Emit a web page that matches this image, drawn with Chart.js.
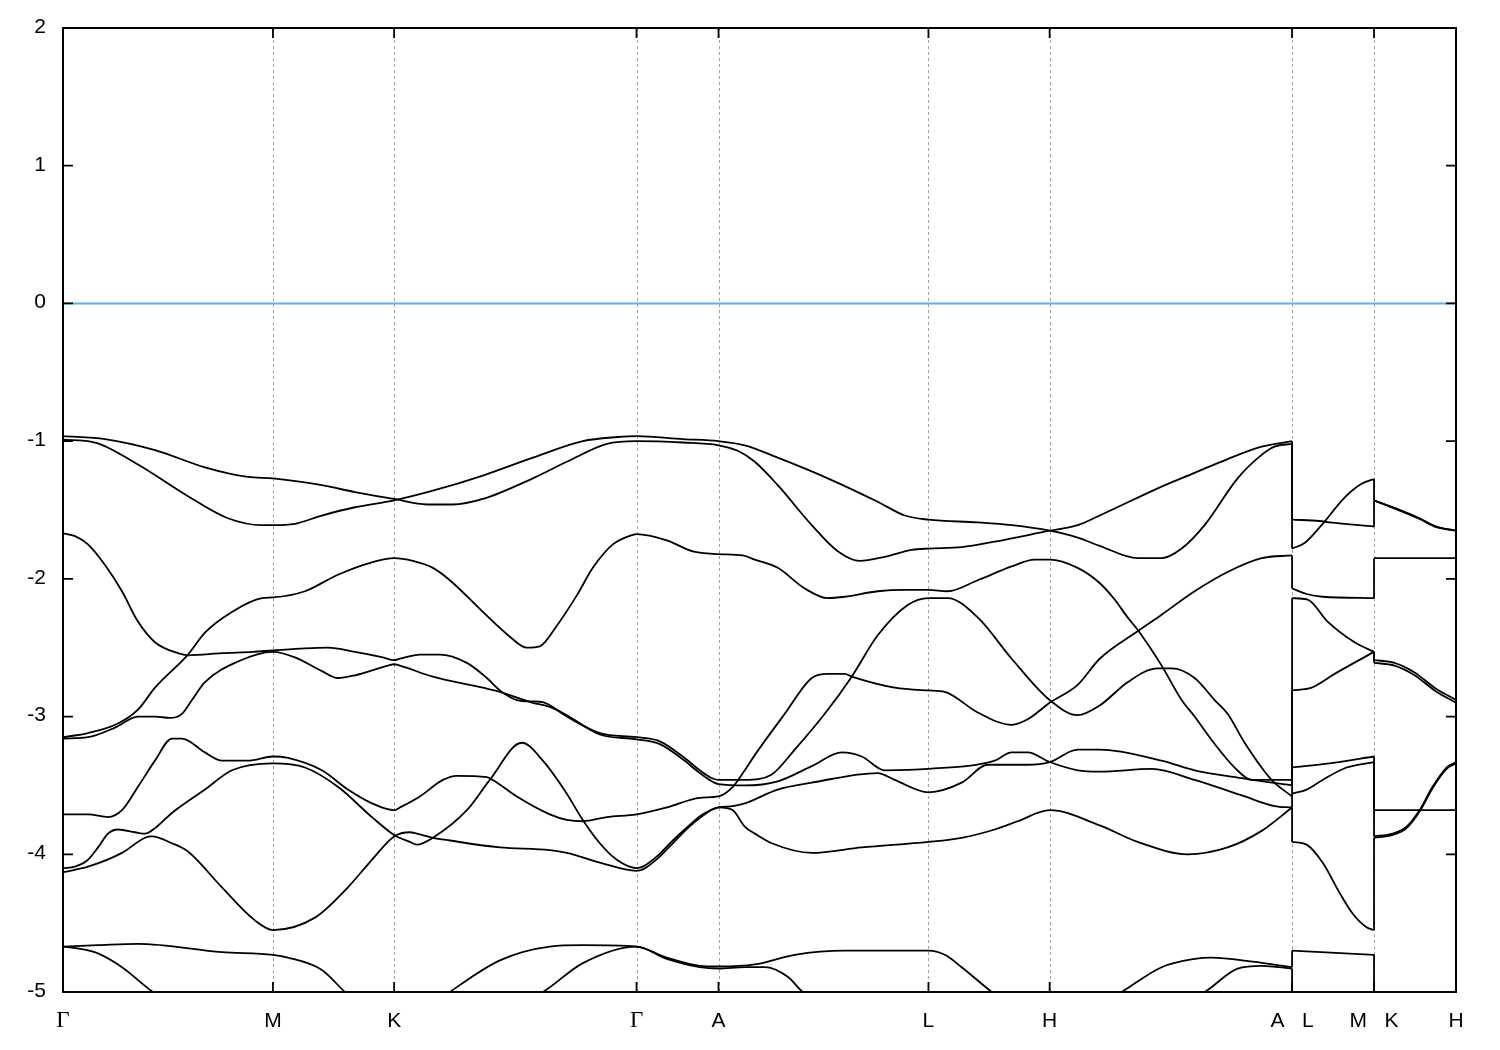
<!DOCTYPE html>
<html>
<head>
<meta charset="utf-8">
<script src="https://cdn.jsdelivr.net/npm/chart.js@4.4.1/dist/chart.umd.min.js"></script>
<style>
  html, body { margin: 0; padding: 0; background: #fff; }
  canvas { display: block; }
</style>
</head>
<body>
<canvas id="bands" width="1500" height="1050"></canvas>
<script>
// k-path: high-symmetry points (Gamma-M = 2.1)
const kTicks = [0, 2.1, 3.3124, 5.7373, 6.5573, 8.6573, 9.8697, 12.2946, 13.1146, 13.9346];
const kLabels = ['Γ', 'M', 'K', 'Γ', 'A', 'L', 'H', 'A   L', 'M   K', 'H'];
const eTicks = [-5, -4, -3, -2, -1, 0, 1, 2];
const fermi = 0;

// Γ-M-K-Γ-A-L-H-A, [k, E(eV)]
const main1 = [[0,-0.963],[0.42,-0.985],[0.92,-1.065],[1.42,-1.19],[1.85,-1.26],[2.1,-1.27],[2.59,-1.32],[2.92,-1.37],[3.3124,-1.42],[3.64,-1.46],[3.90,-1.46],[4.20,-1.42],[4.70,-1.27],[5.04,-1.15],[5.44,-1.02],[5.7373,-1.0],[6.20,-1.01],[6.5573,-1.03],[6.75,-1.07],[6.92,-1.15],[7.15,-1.32],[7.49,-1.61],[7.75,-1.80],[7.97,-1.87],[8.22,-1.84],[8.49,-1.79],[8.6573,-1.78],[8.99,-1.77],[9.32,-1.73],[9.8697,-1.65],[10.15,-1.61],[10.37,-1.54],[10.99,-1.33],[11.32,-1.23],[11.65,-1.13],[11.99,-1.04],[12.2946,-1.0]];
const main2 = [[0,-0.99],[0.32,-1.01],[0.75,-1.17],[1.25,-1.40],[1.65,-1.56],[1.99,-1.61],[2.1,-1.61],[2.32,-1.60],[2.59,-1.54],[2.92,-1.48],[3.3124,-1.43],[3.70,-1.36],[4.20,-1.25],[4.70,-1.12],[5.20,-1.0],[5.55,-0.97],[5.7373,-0.963],[6.20,-0.985],[6.5573,-1.0],[6.82,-1.03],[7.15,-1.12],[7.65,-1.27],[8.15,-1.44],[8.42,-1.54],[8.6573,-1.57],[9.15,-1.59],[9.49,-1.61],[9.8697,-1.65],[10.15,-1.70],[10.37,-1.76],[10.75,-1.85],[10.99,-1.85],[11.19,-1.78],[11.42,-1.61],[11.75,-1.27],[11.99,-1.10],[12.12,-1.04],[12.2946,-1.02]];
const main3 = [[0,-1.67],[0.12,-1.69],[0.25,-1.75],[0.42,-1.90],[0.59,-2.09],[0.75,-2.31],[0.92,-2.46],[1.15,-2.54],[1.25,-2.555],[1.59,-2.54],[1.9,-2.53],[2.1,-2.52],[2.42,-2.505],[2.65,-2.50],[2.92,-2.53],[3.20,-2.57],[3.3124,-2.59],[3.37,-2.58],[3.57,-2.55],[3.77,-2.55],[4.04,-2.61],[4.24,-2.72],[4.37,-2.81],[4.54,-2.88],[4.70,-2.89],[4.80,-2.895],[5.04,-3.0],[5.37,-3.12],[5.7373,-3.15],[5.97,-3.18],[6.20,-3.29],[6.37,-3.39],[6.50,-3.45],[6.5573,-3.46],[6.82,-3.46],[7.09,-3.42],[7.32,-3.24],[7.62,-2.98],[7.89,-2.71],[8.15,-2.41],[8.45,-2.19],[8.6573,-2.14],[8.85,-2.14],[9.15,-2.28],[9.49,-2.58],[9.8697,-2.88],[10.15,-2.99],[10.37,-2.92],[10.65,-2.75],[10.95,-2.65],[11.09,-2.65],[11.32,-2.72],[11.52,-2.88],[11.65,-2.98],[11.82,-3.19],[12.09,-3.46],[12.2946,-3.58]];
const main4 = [[0,-3.15],[0.25,-3.12],[0.55,-3.05],[0.75,-2.95],[0.92,-2.79],[1.25,-2.55],[1.42,-2.39],[1.69,-2.24],[1.99,-2.14],[2.1,-2.135],[2.42,-2.09],[2.75,-1.97],[3.09,-1.88],[3.3124,-1.85],[3.50,-1.87],[3.70,-1.92],[3.87,-2.01],[4.20,-2.24],[4.47,-2.42],[4.64,-2.50],[4.77,-2.49],[4.94,-2.34],[5.14,-2.12],[5.30,-1.92],[5.50,-1.75],[5.70,-1.68],[5.7373,-1.675],[6.04,-1.72],[6.30,-1.80],[6.5573,-1.82],[6.80,-1.83],[6.92,-1.86],[7.15,-1.92],[7.42,-2.07],[7.65,-2.14],[7.82,-2.13],[8.15,-2.09],[8.42,-2.08],[8.6573,-2.08],[8.85,-2.09],[9.15,-2.01],[9.49,-1.91],[9.72,-1.86],[9.8697,-1.86],[10.15,-1.92],[10.37,-2.03],[10.52,-2.15],[10.65,-2.28],[10.75,-2.37],[10.99,-2.63],[11.19,-2.88],[11.32,-3.0],[11.49,-3.17],[11.72,-3.37],[11.89,-3.46],[12.2946,-3.46]];
const main5 = [[0,-3.16],[0.25,-3.15],[0.52,-3.08],[0.75,-3.0],[0.92,-3.0],[1.07,-3.01],[1.19,-2.98],[1.29,-2.88],[1.42,-2.75],[1.75,-2.60],[2.1,-2.53],[2.32,-2.57],[2.59,-2.67],[2.75,-2.72],[2.92,-2.70],[3.25,-2.63],[3.3124,-2.62],[3.37,-2.63],[3.70,-2.71],[4.20,-2.79],[4.37,-2.82],[4.70,-2.90],[4.87,-2.93],[5.04,-2.99],[5.37,-3.13],[5.7373,-3.165],[5.97,-3.20],[6.20,-3.31],[6.37,-3.41],[6.5573,-3.49],[6.82,-3.50],[7.15,-3.47],[7.49,-3.36],[7.79,-3.26],[7.99,-3.29],[8.22,-3.39],[8.6573,-3.38],[9.32,-3.32],[9.49,-3.26],[9.65,-3.26],[9.8697,-3.33],[10.15,-3.39],[10.37,-3.40],[10.89,-3.38],[11.32,-3.46],[11.82,-3.58],[12.12,-3.65],[12.2946,-3.66]];
const main6 = [[0,-3.71],[0.25,-3.71],[0.45,-3.73],[0.59,-3.68],[0.75,-3.51],[0.92,-3.32],[1.09,-3.16],[1.19,-3.16],[1.42,-3.26],[1.59,-3.32],[1.85,-3.32],[2.1,-3.29],[2.25,-3.30],[2.59,-3.39],[2.85,-3.53],[3.09,-3.63],[3.3124,-3.68],[3.37,-3.66],[3.57,-3.58],[3.80,-3.46],[3.94,-3.43],[4.24,-3.44],[4.30,-3.46],[4.54,-3.58],[4.87,-3.71],[5.04,-3.75],[5.20,-3.76],[5.44,-3.73],[5.7373,-3.71],[6.04,-3.66],[6.37,-3.59],[6.5573,-3.58],[6.70,-3.51],[6.82,-3.39],[6.92,-3.28],[7.22,-2.98],[7.49,-2.72],[7.65,-2.69],[7.82,-2.69],[7.89,-2.71],[8.32,-2.79],[8.6573,-2.81],[8.82,-2.82],[9.15,-2.97],[9.49,-3.06],[9.65,-3.02],[9.8697,-2.90],[10.15,-2.77],[10.37,-2.58],[10.75,-2.38],[10.99,-2.26],[11.32,-2.09],[11.65,-1.95],[11.99,-1.85],[12.2946,-1.83]];
const main7 = [[0,-4.10],[0.12,-4.09],[0.25,-4.04],[0.35,-3.95],[0.45,-3.85],[0.55,-3.82],[0.72,-3.84],[0.82,-3.85],[0.92,-3.81],[1.09,-3.70],[1.42,-3.53],[1.69,-3.39],[2.1,-3.34],[2.42,-3.37],[2.75,-3.51],[3.09,-3.73],[3.3124,-3.86],[3.47,-3.91],[3.54,-3.93],[3.70,-3.88],[4.04,-3.68],[4.27,-3.46],[4.59,-3.19],[4.80,-3.32],[5.04,-3.56],[5.19,-3.74],[5.37,-3.92],[5.54,-4.04],[5.7373,-4.10],[5.80,-4.09],[5.95,-4.01],[6.10,-3.90],[6.25,-3.80],[6.40,-3.71],[6.5573,-3.66],[6.70,-3.65],[6.82,-3.63],[7.15,-3.53],[7.49,-3.48],[8.15,-3.41],[8.32,-3.46],[8.6573,-3.55],[8.99,-3.48],[9.25,-3.35],[9.65,-3.35],[9.8697,-3.33],[10.15,-3.24],[10.37,-3.24],[10.99,-3.32],[11.32,-3.39],[11.82,-3.45],[12.2946,-3.50]];
const main8 = [[0,-4.13],[0.25,-4.09],[0.59,-3.99],[0.82,-3.88],[0.89,-3.87],[1.09,-3.92],[1.25,-3.98],[1.59,-4.24],[1.92,-4.48],[2.1,-4.55],[2.52,-4.46],[2.85,-4.24],[3.09,-4.04],[3.3124,-3.87],[3.47,-3.84],[3.54,-3.85],[3.70,-3.88],[3.87,-3.90],[4.37,-3.95],[4.87,-3.97],[5.04,-3.99],[5.37,-4.06],[5.7373,-4.12],[5.80,-4.11],[5.95,-4.03],[6.10,-3.92],[6.25,-3.81],[6.40,-3.72],[6.5573,-3.66],[6.70,-3.68],[6.82,-3.80],[6.92,-3.85],[7.09,-3.92],[7.49,-3.99],[7.99,-3.95],[8.6573,-3.91],[8.99,-3.88],[9.32,-3.82],[9.55,-3.76],[9.8697,-3.68],[10.37,-3.79],[10.75,-3.91],[11.25,-4.0],[11.65,-3.95],[11.99,-3.83],[12.2946,-3.66]];
const main9 = [[0,-4.67],[0.35,-4.66],[0.75,-4.65],[1.59,-4.71],[2.1,-4.73],[2.25,-4.75],[2.59,-4.84],[2.82,-5.0],[3.3124,-5.3],[3.87,-5.0],[4.37,-4.77],[4.87,-4.67],[5.20,-4.66],[5.7373,-4.67],[6.04,-4.75],[6.37,-4.81],[6.5573,-4.815],[6.92,-4.80],[7.32,-4.73],[7.82,-4.70],[8.6573,-4.70],[8.82,-4.73],[8.99,-4.82],[9.29,-5.0],[9.8697,-5.3],[10.59,-5.0],[10.99,-4.82],[11.32,-4.76],[11.49,-4.75],[11.90,-4.78],[12.2946,-4.82]];
const main10 = [[0,-4.67],[0.20,-4.69],[0.35,-4.72],[0.59,-4.82],[0.90,-5.0],[2.1,-5.5],[3.3124,-5.5],[4.80,-5.0],[5.20,-4.79],[5.7373,-4.67],[6.04,-4.76],[6.37,-4.82],[6.5573,-4.83],[6.82,-4.82],[7.02,-4.82],[7.25,-4.89],[7.40,-5.0],[8.6573,-5.5],[9.8697,-5.5],[11.42,-5.0],[11.75,-4.83],[11.99,-4.81],[12.2946,-4.83]];

// L-M
const lm1 = [[12.2946,-1.57],[12.57,-1.58],[12.67,-1.59],[13.1146,-1.62]];
const lm2 = [[12.2946,-1.78],[12.42,-1.74],[12.59,-1.61],[12.82,-1.41],[12.99,-1.31],[13.1146,-1.275]];
const lm3 = [[12.2946,-2.07],[12.44,-2.11],[12.60,-2.13],[13.1146,-2.14]];
const lm4 = [[12.2946,-2.14],[12.45,-2.15],[12.65,-2.31],[12.92,-2.46],[13.1146,-2.53]];
const lm5 = [[12.2946,-2.81],[12.49,-2.79],[12.72,-2.69],[13.1146,-2.53]];
const lm6 = [[12.2946,-3.37],[12.67,-3.34],[13.1146,-3.29]];
const lm7 = [[12.2946,-3.56],[12.44,-3.53],[12.60,-3.46],[12.84,-3.37],[13.1146,-3.33]];
const lm8 = [[12.2946,-3.91],[12.44,-3.93],[12.60,-4.06],[12.77,-4.28],[12.90,-4.43],[13.04,-4.53],[13.1146,-4.55]];
const lm9 = [[12.2946,-4.70],[13.1146,-4.73]];
const lm10 = [[12.2946,-5.4],[13.1146,-5.4]];

// K-H
const kh1 = [[13.1146,-1.43],[13.34,-1.49],[13.57,-1.56],[13.74,-1.62],[13.9346,-1.65]];
const kh2 = [[13.1146,-1.43],[13.34,-1.495],[13.57,-1.565],[13.74,-1.625],[13.9346,-1.65]];
const kh3 = [[13.1146,-1.85],[13.9346,-1.85]];
const kh4 = [[13.1146,-2.59],[13.32,-2.61],[13.52,-2.68],[13.72,-2.79],[13.9346,-2.88]];
const kh5 = [[13.1146,-2.61],[13.32,-2.63],[13.52,-2.70],[13.72,-2.81],[13.9346,-2.90]];
const kh6 = [[13.1146,-3.68],[13.9346,-3.68]];
const kh7 = [[13.1146,-3.87],[13.30,-3.85],[13.44,-3.80],[13.57,-3.68],[13.70,-3.51],[13.84,-3.37],[13.9346,-3.33]];
const kh8 = [[13.1146,-3.88],[13.30,-3.86],[13.44,-3.81],[13.57,-3.69],[13.70,-3.52],[13.84,-3.38],[13.9346,-3.34]];
const kh9 = [[13.1146,-5.4],[13.9346,-5.4]];
const kh10 = [[13.1146,-5.4],[13.9346,-5.4]];

const mainBands = [main1, main2, main3, main4, main5, main6, main7, main8, main9, main10];
const lmBands = [lm1, lm2, lm3, lm4, lm5, lm6, lm7, lm8, lm9, lm10];
const khBands = [kh1, kh2, kh3, kh4, kh5, kh6, kh7, kh8, kh9, kh10];

function curve(pts) {
  return {
    data: pts.map(p => ({ x: p[0], y: p[1] })),
    borderColor: '#000', borderWidth: 1.8, pointRadius: 0,
    cubicInterpolationMode: 'monotone', capBezierPoints: false, fill: false
  };
}

// bands are sorted by energy at each end of a path break, so join them by rank
function jumps(left, right) {
  const a = left.map(b => b[b.length - 1]).sort((p, q) => q[1] - p[1]);
  const b = right.map(b => b[0]).sort((p, q) => q[1] - p[1]);
  return a.map((p, i) => ({
    data: [{ x: p[0], y: p[1] }, { x: b[i][0], y: b[i][1] }],
    borderColor: '#000', borderWidth: 1.8, pointRadius: 0, tension: 0, fill: false
  }));
}

const datasets = [
  ...mainBands.map(curve), ...lmBands.map(curve), ...khBands.map(curve),
  ...jumps(mainBands, lmBands), ...jumps(lmBands, khBands)
];

const frame = {
  id: 'frame',
  beforeDatasetsDraw(chart) {
    const { ctx, chartArea: a, scales: { x, y } } = chart;
    ctx.save();
    ctx.strokeStyle = '#a0a0a0';
    ctx.lineWidth = 1;
    ctx.setLineDash([3, 3]);
    kTicks.slice(1, -1).forEach(k => {
      const px = Math.round(x.getPixelForValue(k)) + 0.5;
      ctx.beginPath(); ctx.moveTo(px, a.top); ctx.lineTo(px, a.bottom); ctx.stroke();
    });
    ctx.setLineDash([]);
    ctx.strokeStyle = '#56b4e9';
    ctx.lineWidth = 2;
    const py = y.getPixelForValue(fermi);
    ctx.beginPath(); ctx.moveTo(a.left, py); ctx.lineTo(a.right, py); ctx.stroke();
    ctx.restore();
  },
  afterDatasetsDraw(chart) {
    const { ctx, chartArea: a, scales: { x, y } } = chart;
    ctx.save();
    ctx.strokeStyle = '#000';
    ctx.lineWidth = 2;
    ctx.strokeRect(a.left, a.top, a.right - a.left, a.bottom - a.top);
    ctx.lineWidth = 1.8;
    ctx.beginPath();
    eTicks.forEach(e => {
      const py = y.getPixelForValue(e);
      ctx.moveTo(a.left, py); ctx.lineTo(a.left + 10, py);
      ctx.moveTo(a.right, py); ctx.lineTo(a.right - 10, py);
    });
    kTicks.forEach(k => {
      const px = x.getPixelForValue(k);
      ctx.moveTo(px, a.bottom); ctx.lineTo(px, a.bottom - 10);
      ctx.moveTo(px, a.top); ctx.lineTo(px, a.top + 10);
    });
    ctx.stroke();

    ctx.fillStyle = '#000';
    ctx.font = '21px "Liberation Sans", Arial, sans-serif';
    ctx.textAlign = 'right';
    ctx.textBaseline = 'middle';
    eTicks.forEach(e => ctx.fillText(String(e), a.left - 17, y.getPixelForValue(e) - 1));

    ctx.textAlign = 'center';
    ctx.textBaseline = 'alphabetic';
    kTicks.forEach((k, i) => {
      const lab = kLabels[i];
      ctx.font = lab === 'Γ' ? '23px "Liberation Serif", serif' : '21px "Liberation Sans", Arial, sans-serif';
      ctx.fillText(lab, x.getPixelForValue(k), a.bottom + 35);
    });
    ctx.restore();
  }
};

new Chart(document.getElementById('bands').getContext('2d'), {
  type: 'line',
  data: { datasets },
  options: {
    responsive: false,
    animation: false,
    devicePixelRatio: 1,
    layout: { padding: { left: 63, right: 44, top: 28, bottom: 58 } },
    scales: {
      x: { type: 'linear', min: kTicks[0], max: kTicks[kTicks.length - 1], display: false },
      y: { type: 'linear', min: eTicks[0], max: eTicks[eTicks.length - 1], display: false }
    },
    plugins: { legend: { display: false }, tooltip: { enabled: false } }
  },
  plugins: [frame]
});
</script>
</body>
</html>
